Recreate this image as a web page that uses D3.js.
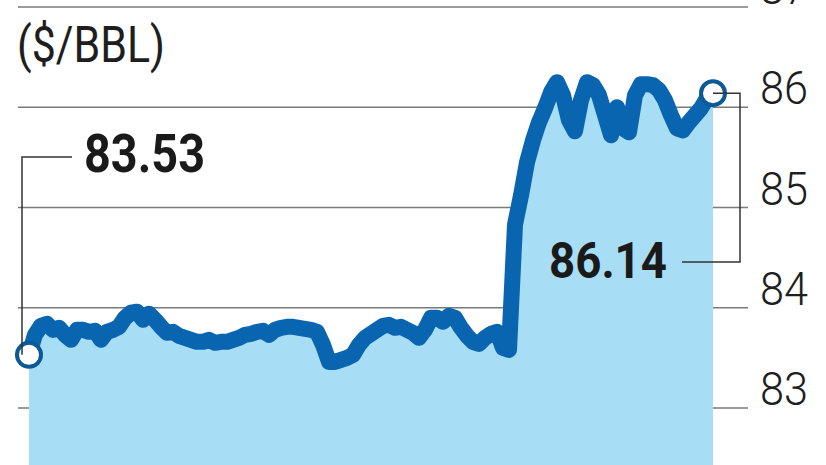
<!DOCTYPE html>
<html>
<head>
<meta charset="utf-8">
<script src="https://cdn.jsdelivr.net/npm/d3@7"></script>
<style>
  html, body { margin: 0; padding: 0; background: #fff; }
  svg { display: block; }
</style>
</head>
<body>
<div id="chart"></div>
<script>
// ---------------------------------------------------------------
// Data: price in $/BBL, one reading per step
// ---------------------------------------------------------------
const prices = [
  83.53, 83.73, 83.82, 83.84, 83.78, 83.80, 83.73, 83.68, 83.78, 83.78,
  83.76, 83.77, 83.68, 83.76, 83.78, 83.81, 83.90, 83.95, 83.96, 83.88,
  83.94, 83.88, 83.81, 83.75, 83.76, 83.72, 83.70, 83.68, 83.66, 83.66,
  83.68, 83.65, 83.66, 83.66, 83.68, 83.70, 83.73, 83.74, 83.76, 83.77,
  83.73, 83.78, 83.80, 83.81, 83.81, 83.80, 83.79, 83.78, 83.76, 83.63,
  83.46, 83.46, 83.48, 83.50, 83.53, 83.63, 83.70, 83.74, 83.78, 83.82,
  83.83, 83.80, 83.81, 83.78, 83.75, 83.70, 83.78, 83.90, 83.90, 83.86,
  83.92, 83.90, 83.80, 83.72, 83.66, 83.64, 83.70, 83.74, 83.76, 83.60,
  83.58, 84.83, 85.12, 85.45, 85.67, 85.85, 85.99, 86.15, 86.25, 86.12,
  85.87, 85.76, 86.07, 86.25, 86.22, 86.12, 85.92, 85.72, 86.00, 85.79,
  85.75, 86.12, 86.23, 86.23, 86.22, 86.17, 86.07, 85.92, 85.79, 85.77,
  85.85, 85.92, 85.99, 86.09, 86.14
];
const yTicks = [83, 84, 85, 86, 87];
const unitLabel = '($/BBL)';
const startLabel = '83.53';
const endLabel = '86.14';

const width = 826, height = 465;

const svg = d3.select('#chart').append('svg')
  .attr('width', width)
  .attr('height', height);

// scales
const x = d3.scaleLinear().domain([0, prices.length - 1]).range([29, 713]);
const y = d3.scaleLinear().domain([83, 87]).range([408, 7]);

// gridlines
svg.append('g')
  .selectAll('line')
  .data(yTicks)
  .join('line')
  .attr('x1', 18)
  .attr('x2', 748)
  .attr('y1', d => y(d))
  .attr('y2', d => y(d))
  .attr('stroke', '#7a7a7a')
  .attr('stroke-width', 1.5);

// tick labels on the right (top one is cut by the frame, as in print)
svg.append('g')
  .selectAll('text')
  .data(yTicks)
  .join('text')
  .attr('x', 760)
  .attr('y', d => y(d) - 3)
  .attr('font-family', 'Roboto, sans-serif')
  .attr('font-weight', 300)
  .attr('font-size', 46)
  .attr('textLength', 48)
  .attr('lengthAdjust', 'spacingAndGlyphs')
  .attr('fill', '#1e1e1e')
  .text(d => d);

// area + line
const area = d3.area()
  .x((d, i) => x(i))
  .y0(height + 10)
  .y1(d => y(d));

const line = d3.line()
  .x((d, i) => x(i))
  .y(d => y(d));

svg.append('path')
  .datum(prices)
  .attr('d', area)
  .attr('fill', '#a8ddf6');

svg.append('path')
  .datum(prices)
  .attr('d', line)
  .attr('fill', 'none')
  .attr('stroke', '#0a65b1')
  .attr('stroke-width', 16)
  .attr('stroke-linejoin', 'round')
  .attr('stroke-linecap', 'round');

// end markers
const last = prices.length - 1;
svg.append('g')
  .selectAll('circle')
  .data([0, last])
  .join('circle')
  .attr('cx', i => x(i))
  .attr('cy', i => y(prices[i]))
  .attr('r', 12)
  .attr('fill', '#fff')
  .attr('stroke', '#0b5a96')
  .attr('stroke-width', 4);

// callout connectors
const x0 = x(0), y0 = y(prices[0]);
const x1 = x(last), y1 = y(prices[last]);

svg.append('path')
  .attr('d', `M72,157H22V${y0}`)
  .attr('fill', 'none')
  .attr('stroke', '#333')
  .attr('stroke-width', 1.5);

svg.append('path')
  .attr('d', `M${x1},${y1}H740V262H682`)
  .attr('fill', 'none')
  .attr('stroke', '#333')
  .attr('stroke-width', 1.5);

// texts
svg.append('text')
  .attr('x', 17)
  .attr('y', 62)
  .attr('font-family', 'Roboto, sans-serif')
  .attr('font-size', 50)
  .attr('textLength', 148)
  .attr('lengthAdjust', 'spacingAndGlyphs')
  .attr('fill', '#1e1e1e')
  .text(unitLabel);

svg.append('text')
  .attr('x', 84)
  .attr('y', 172)
  .attr('font-family', 'Roboto, sans-serif')
  .attr('font-weight', 700)
  .attr('font-size', 53)
  .attr('textLength', 121)
  .attr('lengthAdjust', 'spacingAndGlyphs')
  .attr('fill', '#1a1a1a')
  .text(startLabel);

svg.append('text')
  .attr('x', 549)
  .attr('y', 278)
  .attr('font-family', 'Roboto, sans-serif')
  .attr('font-weight', 700)
  .attr('font-size', 50)
  .attr('textLength', 118)
  .attr('lengthAdjust', 'spacingAndGlyphs')
  .attr('fill', '#1a1a1a')
  .text(endLabel);
</script>
</body>
</html>
